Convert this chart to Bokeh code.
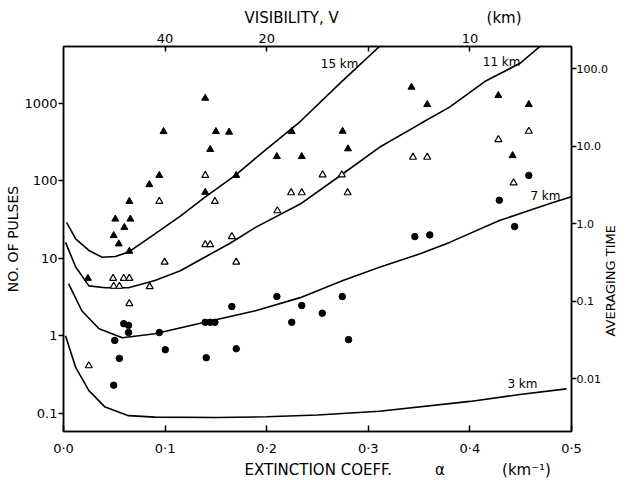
import math
from bokeh.plotting import figure
from bokeh.models import (Range1d, LinearAxis, LogAxis, FixedTicker, Label, LogScale, Title)
from bokeh.embed import file_html
from bokeh.resources import INLINE

# ---------------- data ----------------
# range curves: number of pulses vs extinction coefficient
x_15km = [0.003, 0.012, 0.025, 0.038, 0.051, 0.064, 0.09, 0.115, 0.139, 0.169, 0.198, 0.233, 0.272, 0.311]
y_15km = [29, 17.8, 12.6, 10.3, 10.5, 12, 20.6, 35, 61, 117, 245, 580, 1800, 5400]

x_11km = [0.002, 0.012, 0.025, 0.041, 0.064, 0.09, 0.115, 0.139, 0.164, 0.189, 0.233, 0.275, 0.311, 0.351, 0.38, 0.416, 0.449, 0.469]
y_11km = [16, 7.7, 4.4, 4.15, 4.15, 5.15, 6.9, 10.3, 15.6, 25, 50, 123, 270, 542, 890, 1950, 3250, 5400]

x_7km = [0.005, 0.018, 0.035, 0.058, 0.09, 0.139, 0.189, 0.233, 0.275, 0.311, 0.351, 0.38, 0.429, 0.481, 0.5]
y_7km = [4.7, 2.1, 1.23, 0.94, 1.06, 1.49, 2.1, 3.1, 5.15, 7.65, 11.4, 16, 30.6, 52, 62]

x_3km = [0.002, 0.012, 0.025, 0.041, 0.064, 0.09, 0.15, 0.2, 0.25, 0.311, 0.4, 0.449, 0.495]
y_3km = [1.0, 0.39, 0.196, 0.12, 0.093, 0.089, 0.088, 0.09, 0.095, 0.106, 0.142, 0.174, 0.206]

curve_names = ["15 km", "11 km", "7 km", "3 km"]

# measured points
filled_tri_x = [0.024, 0.0494, 0.051, 0.0544, 0.0599, 0.0648, 0.0658, 0.0648, 0.0845, 0.0943, 0.0985,
                0.1395, 0.1395, 0.1444, 0.150, 0.163, 0.170, 0.210, 0.2246, 0.2345, 0.2747, 0.280,
                0.3425, 0.358, 0.428, 0.442, 0.458]
filled_tri_y = [5.5, 19.6, 32, 15.3, 25, 12.3, 32, 54, 89, 117, 431,
                1160, 71, 253, 431, 423, 117, 205, 431, 205, 435, 258,
                1610, 962, 1257, 211, 962]

open_tri_x = [0.0249, 0.0488, 0.0593, 0.0648, 0.0494, 0.055, 0.0848, 0.0648, 0.0943, 0.0995,
              0.1395, 0.1444, 0.1395, 0.149, 0.1657, 0.170, 0.2105, 0.224, 0.2345, 0.255,
              0.274, 0.2797, 0.344, 0.358, 0.428, 0.443, 0.458]
open_tri_y = [0.41, 5.5, 5.5, 5.5, 4.35, 4.35, 4.3, 2.6, 54, 8.9,
              15, 15, 117, 54, 19, 8.9, 41, 70, 70, 119,
              119, 70, 201, 201, 340, 94, 435]

circle_x = [0.0494, 0.0504, 0.055, 0.0593, 0.064, 0.064, 0.0943, 0.1002, 0.1395, 0.1405, 0.1444,
            0.149, 0.1657, 0.170, 0.21, 0.2246, 0.2345, 0.2547, 0.2744, 0.2806, 0.3458, 0.3605,
            0.429, 0.444, 0.458]
circle_y = [0.23, 0.87, 0.51, 1.43, 1.36, 1.1, 1.1, 0.66, 1.49, 0.52, 1.49,
            1.49, 2.38, 0.68, 3.2, 1.49, 2.45, 1.95, 3.2, 0.89, 19, 20,
            56, 25.6, 117]

# axes
x_ticks = [0.0, 0.1, 0.2, 0.3, 0.4, 0.5]
x_tick_labels = ["0·0", "0·1", "0·2", "0·3", "0·4", "0·5"]
top_ticks = [0.1, 0.2, 0.3, 0.4]
top_tick_labels = ["40", "20", "", "10"]          # visibility V (km)
y_ticks = [0.1, 1, 10, 100, 1000]
y_tick_labels = ["0.1", "1", "10", "100", "1000"]
time_ticks = [0.01, 0.1, 1, 10, 100]
time_tick_labels = ["0.01", "0.1", "1.0", "10.0", "100.0"]
pulses_per_time_unit = 28.0
y_min, y_max = 0.0581, 5390

FONT = "DejaVu Sans"
NB = "\u00a0"

p = figure(width=628, height=480, x_range=Range1d(0, 0.5),
           y_range=Range1d(y_min, y_max), y_axis_type="log",
           output_backend="svg", toolbar_location=None,
           min_border_left=63, min_border_right=57, min_border_top=46, min_border_bottom=49)
p.background_fill_color = "white"
p.border_fill_color = "white"
p.outline_line_color = "black"
p.outline_line_width = 1.5
p.xgrid.visible = False
p.ygrid.visible = False

p.extra_y_ranges = {"time": Range1d(y_min / pulses_per_time_unit, y_max / pulses_per_time_unit)}
p.extra_y_scales = {"time": LogScale()}


def style_axis(ax, tin, tout, standoff, size="13px"):
    ax.axis_line_color = "black"
    ax.axis_line_width = 1.5
    ax.major_tick_line_color = "black"
    ax.major_tick_line_width = 1.5
    ax.major_tick_in = tin
    ax.major_tick_out = tout
    ax.minor_tick_line_color = None
    ax.major_label_text_font = FONT
    ax.major_label_text_font_size = size
    ax.major_label_text_color = "black"
    ax.major_label_standoff = standoff
    ax.axis_label_text_font = FONT
    ax.axis_label_text_font_style = "normal"
    ax.axis_label_text_color = "black"


xa = p.xaxis[0]
xa.ticker = FixedTicker(ticks=x_ticks)
xa.major_label_overrides = dict(zip(x_ticks, x_tick_labels))
style_axis(xa, 6, 0, 9)

ya = p.yaxis[0]
ya.ticker = FixedTicker(ticks=y_ticks)
ya.major_label_overrides = dict(zip(y_ticks, y_tick_labels))
style_axis(ya, 0, 5, 1)
ya.axis_label = "NO. OF PULSES"
ya.axis_label_text_font_size = "14px"
ya.axis_label_standoff = 0

top = LinearAxis(ticker=FixedTicker(ticks=top_ticks),
                 major_label_overrides=dict(zip(top_ticks, top_tick_labels)))
style_axis(top, 5, 0, 4)
p.add_layout(top, "above")

right = LogAxis(y_range_name="time", ticker=FixedTicker(ticks=time_ticks),
                major_label_overrides=dict(zip(time_ticks, time_tick_labels)))
style_axis(right, 0, 5, 0, size="11px")
right.axis_label_text_font_size = "13px"
right.axis_label_standoff = 0
right_props = right.properties()
right_title = "AVERAGING" + NB + "TIME"
if "axis_label_orientation" in right_props:
    right.axis_label_orientation = math.pi / 2
if "axis_label_align" in right_props:
    right.axis_label_align = "start"
    right_title = NB * 23 + right_title
right.axis_label = right_title
p.add_layout(right, "right")

# titles (top and bottom)
p.title.text = "VISIBILITY," + NB + "V" + NB * 31 + "(km)"
p.title.align = "left"
p.title.offset = 181
p.title.text_font = FONT
p.title.text_font_size = "15px"
p.title.text_font_style = "normal"
p.title.text_color = "black"
p.title.standoff = 8

bottom_title = Title(text="EXTINCTION" + NB + "COEFF." + NB * 9 + "α" + NB * 12 + "(km⁻¹)",
                     align="left", offset=181, text_font=FONT, text_font_size="15px",
                     text_font_style="normal", text_color="black", standoff=1)
p.add_layout(bottom_title, "below")

# curves
for xs, ys in [(x_15km, y_15km), (x_11km, y_11km), (x_7km, y_7km), (x_3km, y_3km)]:
    p.line(xs, ys, line_color="black", line_width=1.6)

# points
p.scatter(filled_tri_x, filled_tri_y, marker="triangle", size=7,
          fill_color="black", line_color="black")
p.scatter(open_tri_x, open_tri_y, marker="triangle", size=7,
          fill_color="white", line_color="black", line_width=1.2)
p.scatter(circle_x, circle_y, marker="circle", size=6.5,
          fill_color="black", line_color="black")


# curve labels: frame-relative screen positions (x from frame left, y from frame bottom)
def lab(text, x, y, size="12px", align="right"):
    p.add_layout(Label(x=x, y=y, x_units="screen", y_units="screen", text=text,
                       text_font=FONT, text_font_size=size, text_color="black",
                       text_align=align, text_baseline="middle"))


lab(curve_names[0], 295, 368)
lab(curve_names[1], 457, 370)
lab(curve_names[2], 497, 236)
lab(curve_names[3], 474, 48)

open("out.html", "w").write(file_html(p, INLINE))
